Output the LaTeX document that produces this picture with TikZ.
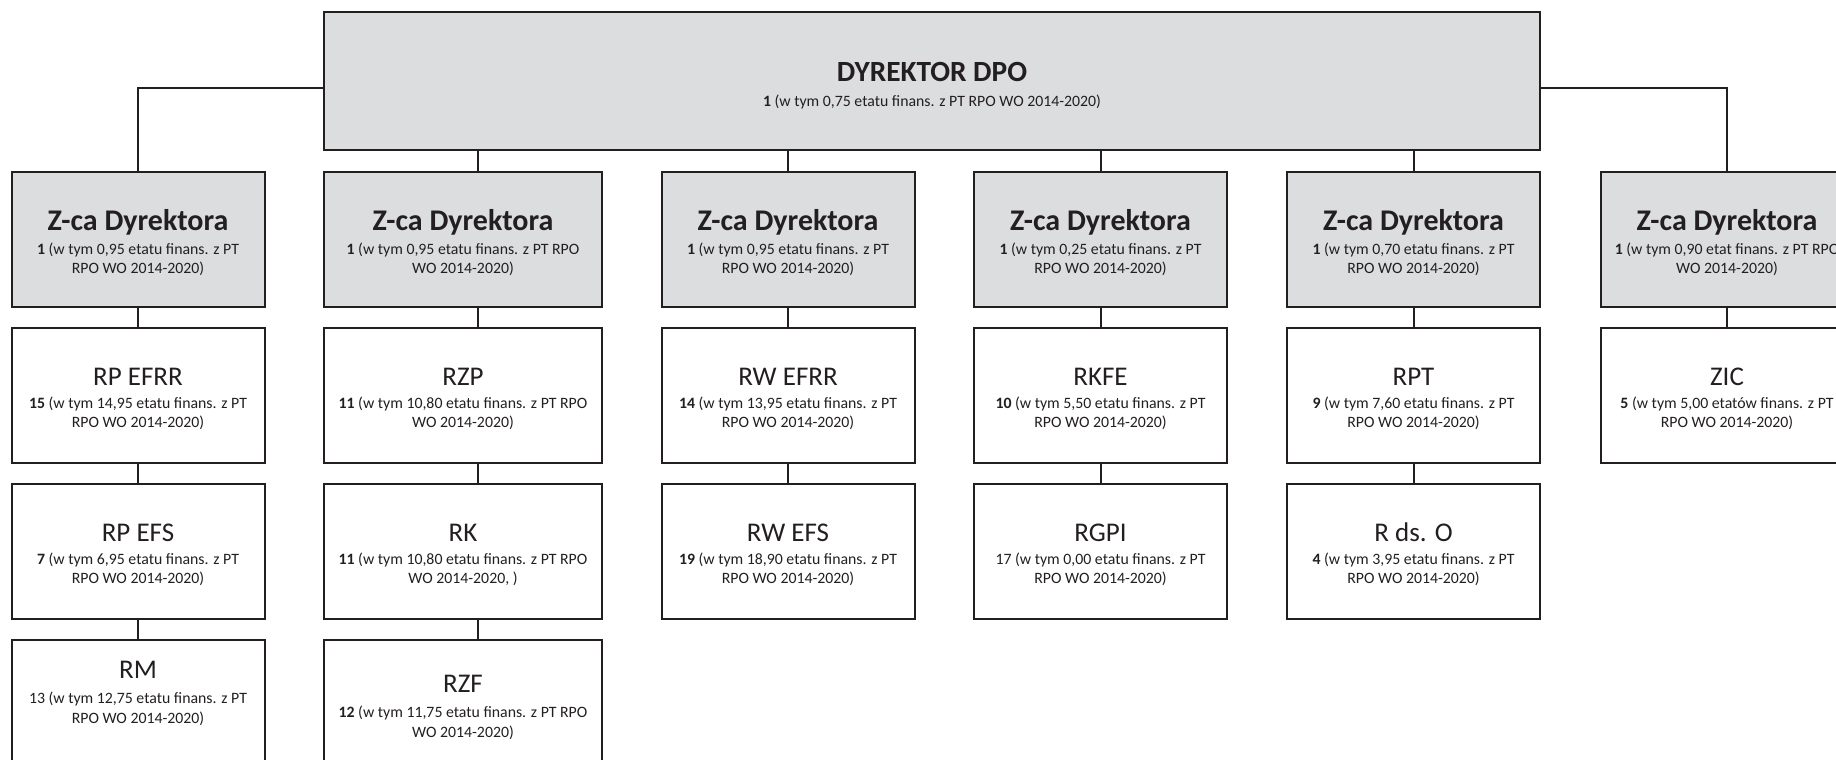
\documentclass[tikz,border=0pt]{standalone}
\usepackage{fontspec}
\setmainfont{Carlito}
\usetikzlibrary{calc}

\definecolor{boxgray}{RGB}{220,221,222}
\definecolor{ink}{RGB}{35,31,32}
\newcommand{\tyt}[1]{{\fontsize{27}{32}\selectfont\rule{0pt}{26pt}#1}}
\newcommand{\ztyt}[1]{{\fontsize{30}{35}\selectfont\bfseries\rule{0pt}{27pt}#1}}
\newcommand{\dtyt}[1]{{\fontsize{29.3}{35}\selectfont\bfseries\rule{0pt}{28pt}#1}}

\begin{document}
\begin{tikzpicture}[x=1pt,y=-1pt,
	every node/.style={align=center,text=ink,inner xsep=0pt,font=\fontsize{15.8}{19.5}\selectfont},
	dyrbox/.style={draw=ink,line width=2pt,fill=boxgray,minimum width=1216pt,minimum height=138pt},
	zcabox/.style={draw=ink,line width=2pt,fill=boxgray,minimum width=253pt,minimum height=135pt},
	unitbox/.style={draw=ink,line width=2pt,fill=white,minimum width=253pt,minimum height=135pt},
	wide/.style={minimum width=277.5pt},
	link/.style={draw=ink,line width=2pt}]
	\useasboundingbox (0,0) rectangle (1836,760);
	\clip (0,0) rectangle (1836,760);
	
	\node[dyrbox] (dyr) at (932,81) {\dtyt{DYREKTOR DPO}\\[5.5pt]\textbf{1} (w tym 0,75 etatu finans. z PT RPO WO 2014-2020)};
	
	\node[zcabox] (zc1) at (138,239.5) {\ztyt{Z-ca Dyrektora}\\[4.5pt]\textbf{1} (w tym 0,95 etatu finans. z PT\\RPO WO 2014-2020)};
	\node[zcabox,wide] (zc2) at (463,239.5) {\ztyt{Z-ca Dyrektora}\\[4.5pt]\textbf{1} (w tym 0,95 etatu finans. z PT RPO\\WO 2014-2020)};
	\node[zcabox] (zc3) at (788,239.5) {\ztyt{Z-ca Dyrektora}\\[4.5pt]\textbf{1} (w tym 0,95 etatu finans. z PT\\RPO WO 2014-2020)};
	\node[zcabox] (zc4) at (1100.5,239.5) {\ztyt{Z-ca Dyrektora}\\[4.5pt]\textbf{1} (w tym 0,25 etatu finans. z PT\\RPO WO 2014-2020)};
	\node[zcabox] (zc5) at (1413.5,239.5) {\ztyt{Z-ca Dyrektora}\\[4.5pt]\textbf{1} (w tym 0,70 etatu finans. z PT\\RPO WO 2014-2020)};
	\node[zcabox] (zc6) at (1727,239.5) {\ztyt{Z-ca Dyrektora}\\[4.5pt]\textbf{1} (w tym 0,90 etat finans. z PT RPO\\WO 2014-2020)};
	
	\node[unitbox] (rpefrr) at (138,395) {\tyt{RP EFRR}\\[3pt]\textbf{15} (w tym 14,95 etatu finans. z PT\\RPO WO 2014-2020)};
	\node[unitbox,wide] (rzp) at (463,395) {\tyt{RZP}\\[3pt]\textbf{11} (w tym 10,80 etatu finans. z PT RPO\\WO 2014-2020)};
	\node[unitbox] (rwefrr) at (788,395) {\tyt{RW EFRR}\\[3pt]\textbf{14} (w tym 13,95 etatu finans. z PT\\RPO WO 2014-2020)};
	\node[unitbox] (rkfe) at (1100.5,395) {\tyt{RKFE}\\[3pt]\textbf{10} (w tym 5,50 etatu finans. z PT\\RPO WO 2014-2020)};
	\node[unitbox] (rpt) at (1413.5,395) {\tyt{RPT}\\[3pt]\textbf{9} (w tym 7,60 etatu finans. z PT\\RPO WO 2014-2020)};
	\node[unitbox] (zic) at (1727,395) {\tyt{ZIC}\\[3pt]\textbf{5} (w tym 5,00 etatów finans. z PT\\RPO WO 2014-2020)};
	
	\node[unitbox] (rpefs) at (138,551) {\tyt{RP EFS}\\[3pt]\textbf{7} (w tym 6,95 etatu finans. z PT\\RPO WO 2014-2020)};
	\node[unitbox,wide] (rk) at (463,551) {\tyt{RK}\\[3pt]\textbf{11} (w tym 10,80 etatu finans. z PT RPO\\WO 2014-2020, )};
	\node[unitbox] (rwefs) at (788,551) {\tyt{RW EFS}\\[3pt]\textbf{19} (w tym 18,90 etatu finans. z PT\\RPO WO 2014-2020)};
	\node[unitbox] (rgpi) at (1100.5,551) {\tyt{RGPI}\\[3pt]17 (w tym 0,00 etatu finans. z PT\\RPO WO 2014-2020)};
	\node[unitbox] (rdso) at (1413.5,551) {\tyt{R ds. O}\\[3pt]\textbf{4} (w tym 3,95 etatu finans. z PT\\RPO WO 2014-2020)};
	
	\node[unitbox] (rm) at (138,707) {\tyt{RM}\\[5.7pt]13 (w tym 12,75 etatu finans. z PT\\RPO WO 2014-2020)\\[18.3pt]\mbox{}};
	\node[unitbox,wide] (rzf) at (463,707) {\tyt{RZF}\\[5.7pt]\textbf{12} (w tym 11,75 etatu finans. z PT RPO\\WO 2014-2020)\\[-9.7pt]\mbox{}};
	
	\coordinate (s2) at (478,0);
	\draw[link] (dyr.west |- 0,88) -| (zc1.north);
	\draw[link] (dyr.east |- 0,88) -| (zc6.north);
	\draw[link] (dyr.south -| s2) -- (zc2.north -| s2);
	\draw[link] (zc3.north |- dyr.south) -- (zc3.north);
	\draw[link] (zc4.north |- dyr.south) -- (zc4.north);
	\draw[link] (zc5.north |- dyr.south) -- (zc5.north);
	
	\draw[link] (zc1.south) -- (rpefrr.north);
	\draw[link] (rpefrr.south) -- (rpefs.north);
	\draw[link] (rpefs.south) -- (rm.north);
	\draw[link] (zc2.south -| s2) -- (rzp.north -| s2);
	\draw[link] (rzp.south -| s2) -- (rk.north -| s2);
	\draw[link] (rk.south -| s2) -- (rzf.north -| s2);
	\draw[link] (zc3.south) -- (rwefrr.north);
	\draw[link] (rwefrr.south) -- (rwefs.north);
	\draw[link] (zc4.south) -- (rkfe.north);
	\draw[link] (rkfe.south) -- (rgpi.north);
	\draw[link] (zc5.south) -- (rpt.north);
	\draw[link] (rpt.south) -- (rdso.north);
	\draw[link] (zc6.south) -- (zic.north);
\end{tikzpicture}
\end{document}
